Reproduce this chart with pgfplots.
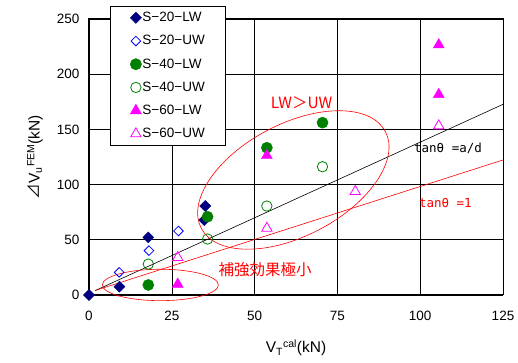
\documentclass[border=0pt]{standalone}
\usepackage{fontspec}
\setmainfont{Liberation Sans}
\newfontfamily\jp{Noto Sans CJK JP}
\newfontfamily\monof{DejaVu Sans Mono}
\usepackage{pgfplots}
\pgfplotsset{compat=1.18}
\definecolor{navyc}{RGB}{0,0,128}
\definecolor{bluec}{RGB}{0,0,255}
\definecolor{greenc}{RGB}{0,128,0}
\definecolor{magc}{RGB}{255,0,255}
\definecolor{redc}{RGB}{255,0,0}
\begin{document}
\begin{tikzpicture}
\begin{axis}[
  scale only axis, width=414pt, height=276pt, at={(0,0)}, anchor=south west,
  xmin=0, xmax=125, ymin=0, ymax=250,
  xtick={0,25,...,125}, ytick={0,50,...,250},
  grid=major, major grid style={black, line width=0.6pt},
  axis line style={line width=1pt},
  major tick length=0pt,
  tick label style={font=\fontsize{13.5}{15}\selectfont},
  /pgf/number format/assume math mode=true,
  xticklabel style={anchor=center, yshift=-21pt},
  yticklabel style={anchor=east, xshift=-6pt},
  xlabel={V\textsubscript{\fontsize{10.5}{12}\selectfont T}\textsuperscript{\fontsize{10.5}{12}\selectfont cal}(kN)},
  ylabel={{\jp ⊿}V\textsubscript{\fontsize{10.5}{12}\selectfont u}\textsuperscript{\fontsize{10.5}{12}\selectfont FEM}(kN)},
  label style={font=\fontsize{15.5}{17}\selectfont},
  xlabel style={at={(rel axis cs:0.5,0)}, anchor=center, yshift=-53pt},
  ylabel style={at={(rel axis cs:0,0.5)}, anchor=center, rotate=0, yshift=54pt},
  legend style={at={(rel axis cs:0.0507,1.047)}, anchor=north west, draw=black, line width=0.6pt, fill=white,
    font=\fontsize{13.5}{15}\selectfont, inner xsep=20pt, inner ysep=5pt, row sep=10.2pt,
    nodes={inner xsep=1pt, inner ysep=0pt}},
  legend cell align=left,
  legend image code/.code={\path[draw=none, fill=none] (-5.5pt,-6.5pt) rectangle (5.5pt,6.5pt); \draw[#1] plot coordinates {(0pt,0pt)};},
  clip=false,
]
\addplot[only marks, mark=square*, mark size=3.9pt, mark options={rotate=45, fill=navyc, draw=navyc}] coordinates {
  (0,0) (9.2,7.5) (17.9,52.2) (35.1,80.6) (34.8,67.9)};
\addlegendentry{S−20−LW}
\addplot[only marks, mark=square, mark size=3.4pt, mark options={rotate=45, draw=bluec, fill=white, line width=0.8pt}] coordinates {
  (9.1,20.5) (18.1,40.2) (27.0,58.0)};
\addlegendentry{S−20−UW}
\addplot[only marks, mark=*, mark size=5.6pt, mark options={fill=greenc, draw=greenc}] coordinates {
  (17.9,9.1) (35.8,70.9) (53.7,133.4) (70.5,156.1)};
\addlegendentry{S−40−LW}
\addplot[only marks, mark=o, mark size=5.2pt, mark options={draw=greenc, fill=white, line width=0.8pt}] coordinates {
  (17.9,28.0) (35.8,50.7) (53.7,80.6) (70.5,116.2)};
\addlegendentry{S−40−UW}
\addplot[only marks, mark=triangle*, mark size=6.3pt, mark options={fill=magc, draw=magc}] coordinates {
  (26.8,9.8) (53.7,126.3) (105.6,226.6) (105.6,181.6)};
\addlegendentry{S−60−LW}
\addplot[only marks, mark=triangle, mark size=6.0pt, mark options={draw=magc, fill=white, line width=0.8pt}] coordinates {
  (26.8,33.9) (53.7,60.5) (80.4,93.7) (105.6,153.2)};
\addlegendentry{S−60−UW}
\addplot[black, line width=0.6pt, forget plot] coordinates {(1.8,3.9) (125,172.7)};
\addplot[redc, line width=0.6pt, forget plot] coordinates {(1.8,4.0) (125,122.3)};
\draw[redc, line width=0.6pt, rotate around={27.7:(axis cs:61.7,104.2)}] (axis cs:61.7,104.2) ellipse [x radius=104pt, y radius=56pt];
\draw[redc, line width=0.6pt] (axis cs:21.55,9.1) ellipse [x radius=58pt, y radius=15.7pt];
\node[text=redc, font=\jp\fontsize{15.5}{17}\selectfont] at (axis cs:64.2,174.2) {LW＞UW};
\node[text=redc, font=\jp\fontsize{15.5}{17}\selectfont] at (axis cs:53.2,23.3) {補強効果極小};
\node[text=black, font=\monof\fontsize{12.5}{14}\selectfont] at (axis cs:108.4,132.9) {tanθ =a/d};
\node[text=redc, font=\monof\fontsize{12.5}{14}\selectfont] at (axis cs:107.6,83) {tanθ =1};
\end{axis}
\pgfresetboundingbox
\path[use as bounding box] (-89pt,-68pt) rectangle (429pt,295pt);
\end{tikzpicture}
\end{document}
